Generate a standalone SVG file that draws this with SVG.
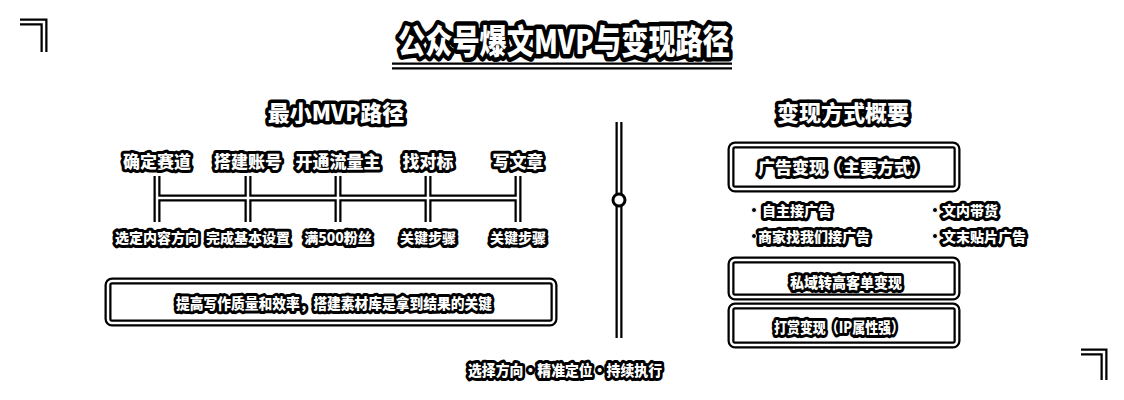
<svg xmlns="http://www.w3.org/2000/svg" width="1124" height="400" viewBox="0 0 1124 400">
<style>
text{font-family:"Noto Sans CJK SC","Noto Sans",sans-serif;font-weight:900;fill:#fff;stroke:#000;stroke-linejoin:round;paint-order:stroke;text-anchor:middle;dominant-baseline:central}
.t{font-size:34px;stroke-width:9px}
.h{font-size:22px;stroke-width:7px}
.l{font-size:17px;stroke-width:6px}
.s{font-size:14px;stroke-width:6px}
.b{font-size:15px;stroke-width:6px}
.lo{fill:none;stroke:#000;stroke-width:7}
.li{fill:none;stroke:#fff;stroke-width:2.5}
.bo{fill:none;stroke:#000;stroke-width:7}
.bi{fill:none;stroke:#fff;stroke-width:2.5}
.dot{fill:#000;stroke:#fff;stroke-width:1}
</style>
<rect width="1124" height="400" fill="#fff"/>
<g id="corners">
<path class="lo" d="M20 22H44V52"/><path class="li" d="M20 22H44V52"/>
<path class="lo" d="M1081 352H1104V380"/><path class="li" d="M1081 352H1104V380"/>
</g>
<g id="title">
<path class="lo" d="M392 66H732"/><path class="li" d="M392 66H732"/>
<text class="t" x="564" y="39" textLength="332" lengthAdjust="spacingAndGlyphs">公众号爆文MVP与变现路径</text>
</g>
<g id="connectors">
<path class="lo" d="M157 176V222M248 176V222M338 176V222M428 176V222M518 176V222M157 198H518"/>
<path class="li" d="M157 176V222M248 176V222M338 176V222M428 176V222M518 176V222M157 198H518"/>
<path class="lo" d="M619 122V338"/><path class="li" d="M619 122V338"/>
<circle cx="619" cy="200" r="6" fill="#fff" stroke="#000" stroke-width="3"/>
</g>
<g id="left-heading"><text class="h" x="336" y="111">最小MVP路径</text></g>
<g id="n1"><text class="l" x="157" y="160">确定赛道</text><text class="s" x="157" y="237">选定内容方向</text></g>
<g id="n2"><text class="l" x="248" y="160">搭建账号</text><text class="s" x="248" y="237">完成基本设置</text></g>
<g id="n3"><text class="l" x="338" y="160">开通流量主</text><text class="s" x="338" y="237">满500粉丝</text></g>
<g id="n4"><text class="l" x="428" y="160">找对标</text><text class="s" x="428" y="237">关键步骤</text></g>
<g id="n5"><text class="l" x="518" y="160">写文章</text><text class="s" x="518" y="237">关键步骤</text></g>
<g id="key-box">
<rect class="bo" x="108" y="281" width="446" height="42" rx="4"/><rect class="bi" x="108" y="281" width="446" height="42" rx="4"/>
<text class="b" x="334" y="302" textLength="316" lengthAdjust="spacingAndGlyphs">提高写作质量和效率，搭建素材库是拿到结果的关键</text>
</g>
<g id="right-heading"><text class="h" x="843" y="111">变现方式概要</text></g>
<g id="ad-box">
<rect class="bo" x="731" y="145" width="226" height="44" rx="4"/><rect class="bi" x="731" y="145" width="226" height="44" rx="4"/>
<text class="l" x="843" y="166">广告变现（主要方式）</text>
</g>
<g id="ad-items">
<text class="s" x="797" y="210">自主接广告</text>
<text class="s" x="814" y="236">商家找我们接广告</text>
<text class="s" x="970" y="210">文内带货</text>
<text class="s" x="984" y="236">文末贴片广告</text>
<circle class="dot" cx="754" cy="210" r="2.5"/>
<circle class="dot" cx="754" cy="236" r="2.5"/>
<circle class="dot" cx="935" cy="210" r="2.5"/>
<circle class="dot" cx="935" cy="236" r="2.5"/>
</g>
<g id="private-box">
<rect class="bo" x="731" y="260" width="226" height="37" rx="4"/><rect class="bi" x="731" y="260" width="226" height="37" rx="4"/>
<text class="b" x="846" y="281" textLength="112" lengthAdjust="spacingAndGlyphs">私域转高客单变现</text>
</g>
<g id="tip-box">
<rect class="bo" x="731" y="306" width="226" height="39" rx="4"/><rect class="bi" x="731" y="306" width="226" height="39" rx="4"/>
<text class="b" x="839" y="326" textLength="130" lengthAdjust="spacingAndGlyphs">打赏变现（IP属性强）</text>
</g>
<g id="footer"><text class="b" x="565" y="369" textLength="194" lengthAdjust="spacingAndGlyphs">选择方向·精准定位·持续执行</text></g>
</svg>
